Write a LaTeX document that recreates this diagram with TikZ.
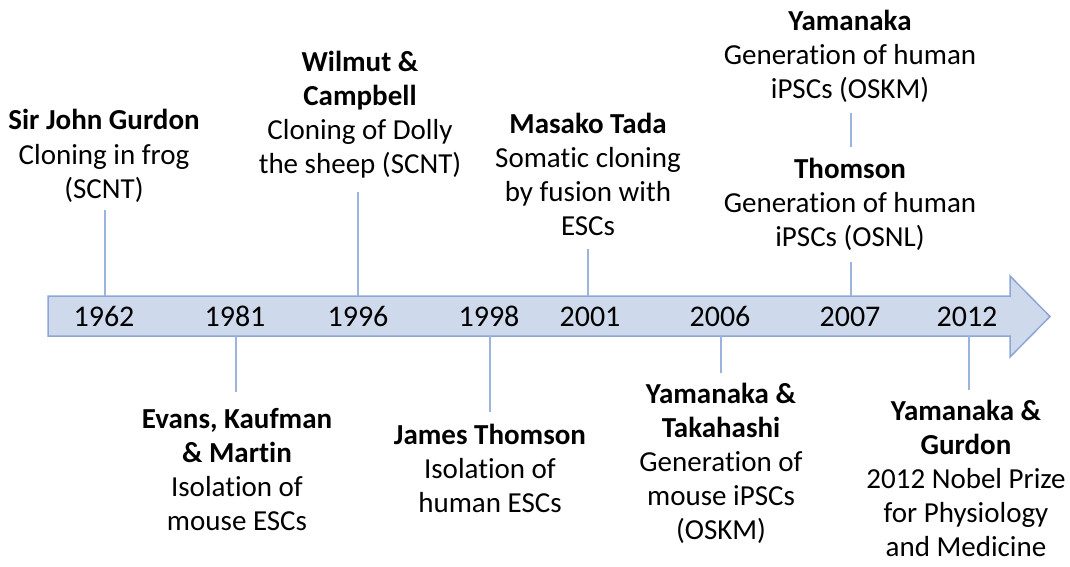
\documentclass[tikz,border=0pt]{standalone}
\usepackage{fontspec}
\setmainfont{Carlito}[Ligatures={NoCommon}]
\definecolor{barfill}{HTML}{CFD9EC}
\definecolor{barline}{HTML}{8EA6D6}
\definecolor{tickline}{HTML}{9CB3DE}
\newcommand{\evtext}[1]{\begin{tabular}[t]{@{}c@{}}#1\end{tabular}}
\tikzset{
  label/.style={anchor=base, inner sep=0pt, font=\fontsize{29}{34}\selectfont},
  yearlabel/.style={anchor=base, inner sep=0pt, font=\fontsize{30}{34}\selectfont},
  tick/.style={draw=tickline, line width=2pt},
  timebar/.style={fill=barfill, draw=barline, line width=1.5pt, line join=miter}
}
\begin{document}
\begin{tikzpicture}[x=1pt, y=-1pt]
\useasboundingbox (0,0) rectangle (1070,567);

% the time arrow
\coordinate (atop) at (0,296);
\coordinate (abot) at (0,336);
\draw[timebar] (48,296) -- (1010,296) -- (1010,276) -- (1050,316.5)
  -- (1010,357) -- (1010,336) -- (48,336) -- cycle;

% years on the bar
\node[yearlabel] (y1962) at (104,326) {1962};
\node[yearlabel] (y1981) at (235,326) {1981};
\node[yearlabel] (y1996) at (358,326) {1996};
\node[yearlabel] (y1998) at (489,326) {1998};
\node[yearlabel] (y2001) at (590,326) {2001};
\node[yearlabel] (y2006) at (720,326) {2006};
\node[yearlabel] (y2007) at (850,326) {2007};
\node[yearlabel] (y2012) at (967,326) {2012};

% events above the bar
\node[label] (e1962) at (104,130) {\evtext{\textbf{Sir John Gurdon}\\Cloning in frog\\(SCNT)}};
\node[label] (e1996) at (360,72) {\evtext{\textbf{Wilmut \&}\\\textbf{Campbell}\\Cloning of Dolly\\the sheep (SCNT)}};
\node[label] (e2001) at (588,133) {\evtext{\textbf{Masako Tada}\\Somatic cloning\\by fusion with\\ESCs}};
\node[label] (e2007a) at (850,31) {\evtext{\textbf{Yamanaka}\\Generation of human\\iPSCs (OSKM)}};
\node[label] (e2007b) at (850,178) {\evtext{\textbf{Thomson}\\Generation of human\\iPSCs (OSNL)}};

% events below the bar
\node[label] (e1981) at (237,428) {\evtext{\textbf{Evans, Kaufman}\\\textbf{\& Martin}\\Isolation of\\mouse ESCs}};
\node[label] (e1998) at (490,444) {\evtext{\textbf{James Thomson}\\Isolation of\\human ESCs}};
\node[label] (e2006) at (721,403) {\evtext{\textbf{Yamanaka \&}\\\textbf{Takahashi}\\Generation of\\mouse iPSCs\\(OSKM)}};
\node[label] (e2012) at (966,420) {\evtext{\textbf{Yamanaka \&}\\\textbf{Gurdon}\\2012 Nobel Prize\\for Physiology\\and Medicine}};

% free ends of the tick lines
\coordinate (c1962) at (105,210);
\coordinate (c1996) at (358,192);
\coordinate (c2001) at (588,249);
\coordinate (c2007) at (851,262);
\coordinate (c2007u) at (851,113);
\coordinate (c2007l) at (851,147);
\coordinate (c1981) at (236,392);
\coordinate (c1998) at (490,412);
\coordinate (c2006) at (721,373);
\coordinate (c2012) at (969,390);

\draw[tick] (c1962) -- (c1962 |- atop);
\draw[tick] (c1996) -- (c1996 |- atop);
\draw[tick] (c2001) -- (c2001 |- atop);
\draw[tick] (c2007) -- (c2007 |- atop);
\draw[tick] (c2007u) -- (c2007l);
\draw[tick] (c1981) -- (c1981 |- abot);
\draw[tick] (c1998) -- (c1998 |- abot);
\draw[tick] (c2006) -- (c2006 |- abot);
\draw[tick] (c2012) -- (c2012 |- abot);
\end{tikzpicture}
\end{document}
